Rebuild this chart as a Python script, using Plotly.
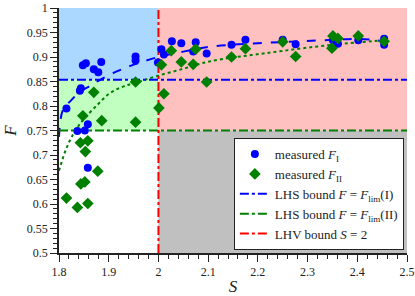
import plotly.graph_objects as go

# measured data
S_I = [1.815, 1.837, 1.842, 1.844, 1.848, 1.852, 1.854, 1.858, 1.858, 1.870, 1.879, 1.885,
       1.954, 1.954, 1.999, 2.006, 2.011, 2.027, 2.046, 2.070, 2.075, 2.097, 2.147, 2.175,
       2.250, 2.276, 2.351, 2.361, 2.402, 2.454, 2.454]
F_I = [0.795, 0.749, 0.831, 0.836, 0.883, 0.750, 0.887, 0.763, 0.674, 0.875, 0.869, 0.890,
       0.901, 0.893, 0.889, 0.916, 0.905, 0.932, 0.928, 0.911, 0.930, 0.907, 0.925, 0.935,
       0.935, 0.926, 0.934, 0.927, 0.934, 0.937, 0.925]

S_II = [1.815, 1.837, 1.843, 1.844, 1.848, 1.852, 1.853, 1.858, 1.858, 1.870, 1.878, 1.886,
        1.954, 1.954, 2.001, 2.006, 2.011, 2.026, 2.046, 2.070, 2.075, 2.097, 2.147, 2.175,
        2.250, 2.276, 2.349, 2.351, 2.361, 2.402, 2.454]
F_II = [0.612, 0.593, 0.725, 0.641, 0.780, 0.645, 0.707, 0.729, 0.601, 0.828, 0.667, 0.770,
        0.849, 0.767, 0.796, 0.884, 0.825, 0.913, 0.890, 0.885, 0.916, 0.849, 0.900, 0.917,
        0.931, 0.901, 0.918, 0.943, 0.938, 0.943, 0.932]

# fitted curves
curve_I_S = [1.800, 1.808, 1.825, 1.842, 1.862, 1.882, 1.915, 1.949, 2.000, 2.050, 2.103,
             2.200, 2.284, 2.350, 2.405, 2.455]
curve_I_F = [0.737, 0.792, 0.812, 0.829, 0.841, 0.853, 0.870, 0.884, 0.900, 0.911, 0.921,
             0.928, 0.932, 0.935, 0.937, 0.932]
curve_II_S = [1.800, 1.815, 1.830, 1.848, 1.875, 1.902, 1.930, 1.962, 2.000, 2.050, 2.103,
              2.217, 2.351, 2.455]
curve_II_F = [0.668, 0.714, 0.745, 0.771, 0.800, 0.826, 0.840, 0.850, 0.862, 0.876, 0.891,
              0.908, 0.925, 0.934]

# bounds
F_LIM_I = 0.8535
F_LIM_II = 0.75
S_LHV = 2.0
X_RANGE = [1.8, 2.5]
Y_RANGE = [0.5, 1.0]

FONT = "Liberation Serif"
BLUE = "#0000ff"
GREEN = "#008000"
RED = "#ff0000"
INK = "#222222"

fig = go.Figure()

# region shading
regions = [
    (X_RANGE[0], S_LHV, F_LIM_I, Y_RANGE[1], "#aad8ff"),
    (X_RANGE[0], S_LHV, F_LIM_II, F_LIM_I, "#c0ffc0"),
    (S_LHV, X_RANGE[1], F_LIM_II, Y_RANGE[1], "#ffc0c0"),
    (S_LHV, X_RANGE[1], Y_RANGE[0], F_LIM_II, "#c0c0c0"),
]
for x0, x1, y0, y1, c in regions:
    fig.add_shape(type="rect", x0=x0, x1=x1, y0=y0, y1=y1, fillcolor=c,
                  line=dict(width=0), layer="below")

# fitted curves
fig.add_trace(go.Scatter(x=curve_I_S, y=curve_I_F, mode="lines", line_shape="spline",
                         line=dict(color=BLUE, width=2, dash="dash"), showlegend=False,
                         hoverinfo="skip"))
fig.add_trace(go.Scatter(x=curve_II_S, y=curve_II_F, mode="lines", line_shape="spline",
                         line=dict(color=GREEN, width=2, dash="dot"), showlegend=False,
                         hoverinfo="skip"))

# bound lines
fig.add_trace(go.Scatter(x=X_RANGE, y=[F_LIM_I, F_LIM_I], mode="lines",
                         line=dict(color=BLUE, width=2, dash="dashdot"),
                         name="LHS bound <i>F</i> = <i>F</i><sub>lim</sub>(I)", legendrank=3))
fig.add_trace(go.Scatter(x=X_RANGE, y=[F_LIM_II, F_LIM_II], mode="lines",
                         line=dict(color=GREEN, width=2, dash="dashdot"),
                         name="LHS bound <i>F</i> = <i>F</i><sub>lim</sub>(II)", legendrank=4))
fig.add_trace(go.Scatter(x=[S_LHV, S_LHV], y=Y_RANGE, mode="lines",
                         line=dict(color=RED, width=2, dash="dashdot"),
                         name="LHV bound <i>S</i> = 2", legendrank=5))

# measured points
fig.add_trace(go.Scatter(x=S_I, y=F_I, mode="markers",
                         marker=dict(color=BLUE, size=8, symbol="circle"),
                         name="measured <i>F</i><sub>I</sub>", legendrank=1))
fig.add_trace(go.Scatter(x=S_II, y=F_II, mode="markers",
                         marker=dict(color=GREEN, size=9, symbol="diamond"),
                         name="measured <i>F</i><sub>II</sub>", legendrank=2))

axis_common = dict(showgrid=False, zeroline=False, showline=True, linecolor=INK,
                   linewidth=1.5, ticks="outside", ticklen=7, tickwidth=1.2,
                   tickcolor=INK, automargin=False,
                   tickfont=dict(family=FONT, size=12, color=INK))

fig.update_xaxes(range=X_RANGE, dtick=0.1, tick0=1.8,
                 minor=dict(dtick=0.02, ticklen=4, ticks="outside", tickcolor=INK),
                 title=dict(text="<i>S</i>", font=dict(family=FONT, size=17, color=INK),
                            standoff=2),
                 **axis_common)
fig.update_yaxes(range=Y_RANGE, dtick=0.05, tick0=0.5,
                 minor=dict(dtick=0.01, ticklen=4, ticks="outside", tickcolor=INK),
                 title=dict(text="<i>F</i>", font=dict(family=FONT, size=17, color=INK),
                            standoff=6),
                 **axis_common)

fig.update_layout(
    width=415, height=296,
    margin=dict(l=59, r=8, t=8, b=43),
    plot_bgcolor="white", paper_bgcolor="white",
    font=dict(family=FONT, size=13, color=INK),
    legend=dict(x=0.991, y=0.012, xanchor="right", yanchor="bottom",
                bgcolor="white", bordercolor=INK, borderwidth=1,
                font=dict(family=FONT, size=13, color=INK),
                tracegroupgap=0, itemwidth=30),
    showlegend=True,
)

fig.write_html("out.html", config={"displayModeBar": False},
               post_script="document.body.style.margin='0';")
